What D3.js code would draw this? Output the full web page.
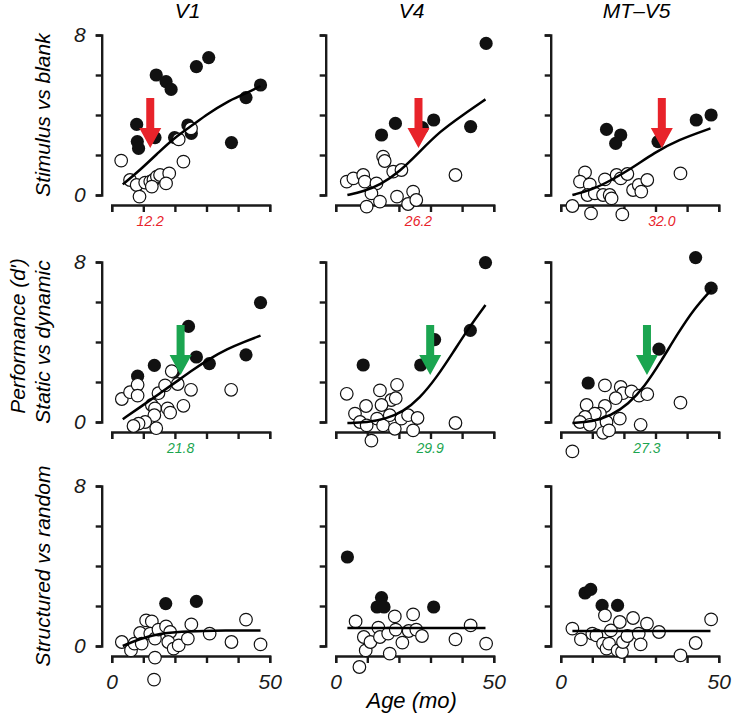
<!DOCTYPE html>
<html>
<head>
<meta charset="utf-8">
<script src="https://cdn.jsdelivr.net/npm/d3@7"></script>
<style>
  html, body { margin: 0; padding: 0; background: #fff; }
  svg text { font-family: "Liberation Sans", Arial, Helvetica, sans-serif; font-style: italic; }
</style>
</head>
<body>
<div id="chart"></div>
<script>
// column / row names
const areas = ["V1", "V4", "MT\u2013V5"];
const tasks = ["Stimulus vs blank", "Static vs dynamic", "Structured vs random"];
const xTicks = [0, 10, 20, 30, 40, 50];
const yTicks = [0, 2, 4, 6, 8];

// threshold ages (months), null = no arrow
const thresholds = [[12.2, 26.2, 32.0], [21.8, 29.9, 27.3], [null, null, null]];
const arrowFrom = 4.85, arrowTo = 2.35;

// --- Stimulus vs blank ---
const v1StimFilled = [[30.7, 6.87], [26.8, 6.42], [14.1, 6.0], [17.2, 5.67], [18.8, 5.28], [47.1, 5.5], [42.5, 4.87],
  [7.9, 3.53], [8.1, 2.67], [8.5, 2.33], [13.7, 2.87], [24.1, 3.5], [25.2, 3.08], [19.9, 2.87], [37.9, 2.62]];
const v1StimOpen = [[3.0, 1.72], [22.7, 1.67], [5.8, 0.75], [7.9, 0.5], [8.8, -0.08], [10.6, 0.62], [12.2, 0.67],
  [13.2, 0.75], [14.3, 0.92], [15.3, 1.0], [18.2, 1.08], [17.2, 0.58], [12.7, 0.42], [21.2, 2.78], [25.1, 3.33]];
const v1StimFit = [[3.5, 0.53], [9.0, 1.25], [15.3, 2.2], [19.6, 2.83], [25.9, 3.53], [30.1, 4.03], [36.5, 4.67], [41.8, 5.03], [47.1, 5.45]];

const v4StimFilled = [[47.6, 7.58], [18.9, 3.58], [14.5, 3.0], [31.0, 3.75], [27.4, 3.37], [42.7, 3.42]];
const v4StimOpen = [[15.0, 1.92], [15.5, 1.7], [37.9, 1.0], [18.2, 1.17], [20.8, 1.25], [3.5, 0.67], [5.6, 0.83],
  [8.7, 1.0], [9.2, 0.67], [12.9, 0.58], [11.3, 0.08], [14.0, -0.33], [9.8, -0.58], [19.4, -0.08], [22.9, -0.45],
  [24.5, 0.17], [25.5, -0.25]];
const v4StimFit = [[3.7, 0.0], [8.7, 0.17], [14.0, 0.5], [20.3, 1.17], [26.6, 2.17], [32.9, 3.17], [40.2, 4.0], [47.4, 4.78]];

const mtStimFilled = [[14.5, 3.28], [19.0, 3.0], [17.4, 2.58], [30.8, 2.67], [42.9, 3.75], [47.6, 4.0]];
const mtStimOpen = [[7.7, 1.13], [6.1, 0.67], [9.2, 0.53], [8.5, 0.0], [10.8, 0.08], [13.4, 0.0], [14.0, 0.78],
  [15.5, 0.0], [16.1, -0.17], [17.7, 1.0], [19.0, 0.83], [21.1, 1.05], [22.9, 0.25], [24.7, 0.5], [25.5, 0.17],
  [27.4, 0.75], [37.9, 1.08], [3.7, -0.55], [9.6, -0.92], [19.5, -0.97]];
const mtStimFit = [[3.7, 0.0], [9.8, 0.25], [16.1, 0.75], [22.4, 1.33], [29.7, 2.12], [37.1, 2.75], [47.4, 3.33]];

// --- Static vs dynamic ---
const v1DynFilled = [[47.1, 5.97], [24.3, 4.78], [26.8, 3.25], [30.9, 2.92], [42.5, 3.36], [13.5, 2.83], [8.2, 2.29], [19.6, 2.49]];
const v1DynOpen = [[3.2, 1.15], [5.8, 1.49], [8.2, 1.86], [8.2, 1.32], [14.8, 1.44], [16.9, 1.83], [20.9, 1.9],
  [25.1, 1.61], [37.8, 1.61], [19.0, 2.54], [12.7, 0.85], [13.7, 0.68], [17.7, 0.68], [18.5, 0.47], [22.7, 0.81],
  [13.5, 0.34], [10.6, 0.0], [8.5, -0.08], [6.9, -0.2], [14.1, -0.31]];
const v1DynFit = [[3.5, 0.14], [10.0, 0.85], [15.3, 1.44], [20.6, 2.03], [25.9, 2.63], [31.2, 3.18], [36.5, 3.65], [41.8, 4.0], [47.1, 4.32]];

const v4DynFilled = [[47.4, 7.97], [8.7, 2.85], [26.9, 2.85], [31.3, 4.12], [42.6, 4.58]];
const v4DynOpen = [[3.5, 1.41], [14.0, 1.58], [19.4, 1.86], [17.6, 1.1], [14.5, 0.85], [9.6, 0.8], [6.1, 0.42],
  [7.7, 0.0], [9.8, -0.17], [13.1, 0.17], [15.0, -0.17], [17.1, 0.34], [18.7, -0.34], [20.8, 0.17], [22.9, 0.34],
  [24.5, -0.42], [25.9, 0.2], [11.3, -0.93], [37.9, -0.05], [19.0, 1.19]];
const v4DynFit = [[3.7, -0.05], [9.8, -0.03], [16.1, 0.17], [21.3, 0.51], [26.6, 1.19], [31.8, 2.2], [37.1, 3.47], [42.3, 4.75], [47.4, 5.85]];

const mtDynFilled = [[42.7, 8.22], [47.6, 6.69], [31.1, 3.64], [8.7, 1.95]];
const mtDynOpen = [[14.0, 1.83], [19.0, 1.75], [19.7, 1.44], [22.4, 1.53], [24.8, 1.32], [27.4, 1.39], [17.4, 1.19],
  [8.2, 0.85], [14.0, 0.8], [12.4, 0.42], [10.8, 0.42], [7.7, 0.25], [6.1, 0.0], [9.2, -0.14], [14.5, 0.0],
  [18.7, 0.17], [13.4, -0.54], [15.3, -0.42], [25.3, -0.14], [37.9, 0.97], [3.7, -1.47]];
const mtDynFit = [[3.7, -0.05], [9.8, 0.0], [16.1, 0.34], [21.3, 0.88], [26.6, 1.78], [31.8, 3.05], [37.1, 4.44], [42.3, 5.68], [47.6, 6.6]];

// --- Structured vs random ---
const v1StrFilled = [[17.1, 2.12], [26.8, 2.23]];
const v1StrOpen = [[3.2, 0.2], [6.1, -0.22], [7.2, 0.12], [9.0, 0.65], [9.5, 0.12], [10.9, 1.28], [12.7, 1.23],
  [12.2, 0.62], [13.7, 0.37], [14.8, 0.82], [17.2, 0.98], [18.5, 0.7], [17.9, 0.2], [19.6, -0.13], [21.2, 0.03],
  [24.1, 0.37], [25.2, 1.08], [31.0, 0.62], [37.9, 0.2], [42.5, 1.32], [47.1, 0.08], [13.7, -0.58], [13.4, -1.68]];
const v1StrFit = [[3.5, 0.0], [9.0, 0.37], [15.3, 0.62], [21.7, 0.72], [31.2, 0.77], [47.1, 0.78]];

const v4StrFilled = [[3.7, 4.45], [14.5, 2.42], [13.1, 1.95], [15.3, 1.95], [31.0, 1.95]];
const v4StrOpen = [[6.3, 1.23], [8.9, 0.45], [9.5, -0.22], [11.0, 0.2], [7.5, -1.05], [13.5, 0.92], [14.0, 0.45],
  [17.1, -0.38], [16.6, 0.62], [18.7, 1.48], [19.0, 0.82], [21.1, 0.17], [23.1, 0.75], [24.5, 1.58], [25.5, 0.82],
  [27.3, 0.5], [37.9, 0.33], [42.7, 1.03], [47.6, 0.12]];
const v4StrFit = [[3.7, 0.9], [47.4, 0.9]];

const mtStrFilled = [[7.7, 2.65], [9.5, 2.83], [13.1, 2.03], [18.0, 2.03]];
const mtStrOpen = [[3.7, 0.87], [6.4, 0.33], [10.0, 0.62], [11.3, 0.53], [14.0, 1.53], [13.4, 0.12], [14.5, -0.13],
  [15.3, 0.12], [15.9, 0.78], [18.0, -0.22], [18.7, 1.2], [19.4, -0.3], [19.7, 0.2], [21.1, 0.5], [22.9, 1.4],
  [24.7, 0.62], [25.3, 0.08], [27.3, 1.12], [31.1, 0.7], [37.9, -0.47], [42.7, 0.15], [47.6, 1.33]];
const mtStrFit = [[3.7, 0.75], [47.4, 0.75]];

const panels = [
  [{filled: v1StimFilled, open: v1StimOpen, fit: v1StimFit},
   {filled: v4StimFilled, open: v4StimOpen, fit: v4StimFit},
   {filled: mtStimFilled, open: mtStimOpen, fit: mtStimFit}],
  [{filled: v1DynFilled, open: v1DynOpen, fit: v1DynFit},
   {filled: v4DynFilled, open: v4DynOpen, fit: v4DynFit},
   {filled: mtDynFilled, open: mtDynOpen, fit: mtDynFit}],
  [{filled: v1StrFilled, open: v1StrOpen, fit: v1StrFit},
   {filled: v4StrFilled, open: v4StrOpen, fit: v4StrFit},
   {filled: mtStrFilled, open: mtStrOpen, fit: mtStrFit}]
];

const arrowColors = ["#e8232a", "#1ba550", null];

const W = 734, H = 722;
const colX = [111.7, 335.7, 560.7];
const rowY = [35, 262, 486];
const pw = 158, ph = 160;

const svg = d3.select("#chart").append("svg")
  .attr("width", W).attr("height", H)
  .attr("viewBox", `0 0 ${W} ${H}`);

const x = d3.scaleLinear().domain([0, 50]).range([0, pw]);
const y = d3.scaleLinear().domain([0, 8]).range([ph, 0]);

const line = d3.line()
  .x(d => x(d[0]))
  .y(d => y(d[1]))
  .curve(d3.curveBasis);

panels.forEach((row, r) => {
  row.forEach((p, c) => {
    const g = svg.append("g").attr("transform", `translate(${colX[c]},${rowY[r]})`);

    // y axis
    const yAxis = d3.axisLeft(y).tickValues(yTicks).tickSize(6).tickSizeOuter(6).tickPadding(10)
      .tickFormat(d => (c === 0 && (d === 0 || d === 8)) ? d : "");
    const ya = g.append("g").attr("transform", "translate(-10,0)").call(yAxis);

    // x axis
    const xAxis = d3.axisBottom(x).tickValues(xTicks).tickSize(7).tickSizeOuter(7).tickPadding(11)
      .tickFormat(d => (r === 2 && (d === 0 || d === 50)) ? d : "");
    const xa = g.append("g").attr("transform", `translate(0,${ph + 10})`).call(xAxis);

    [ya, xa].forEach(a => {
      a.selectAll("path, line").attr("stroke", "#1a1a1a").attr("stroke-width", 2.4);
      a.selectAll("text").attr("fill", "#1a1a1a").style("font-size", "21px");
    });

    // points
    g.selectAll(".filled").data(p.filled).enter().append("circle")
      .attr("cx", d => x(d[0])).attr("cy", d => y(d[1])).attr("r", 6.6)
      .attr("fill", "#111");
    g.selectAll(".open").data(p.open).enter().append("circle")
      .attr("cx", d => x(d[0])).attr("cy", d => y(d[1])).attr("r", 6.3)
      .attr("fill", "#fff").attr("stroke", "#111").attr("stroke-width", 1.2);

    // fit
    g.append("path").datum(p.fit).attr("d", line)
      .attr("fill", "none").attr("stroke", "#000").attr("stroke-width", 2.5);

    // threshold arrow + label
    const t = thresholds[r][c];
    if (t !== null) {
      const ax = x(t), y1 = y(arrowFrom), y2 = y(arrowTo);
      const sw = 4, hw = 11, hh = 20;
      g.append("path")
        .attr("d", `M${ax - sw},${y1}H${ax + sw}V${y2 - hh}H${ax + hw}L${ax},${y2}L${ax - hw},${y2 - hh}H${ax - sw}Z`)
        .attr("fill", arrowColors[r]);
      g.append("text")
        .attr("x", ax).attr("y", ph + 31)
        .attr("text-anchor", "middle")
        .attr("fill", arrowColors[r])
        .style("font-size", "14px")
        .text(t.toFixed(1));
    }
  });
});

// column titles
areas.forEach((a, c) => {
  svg.append("text")
    .attr("x", colX[c] + pw / 2 - 3).attr("y", 18)
    .attr("text-anchor", "middle")
    .style("font-size", "21px")
    .text(a);
});

// row labels
tasks.forEach((t, r) => {
  svg.append("text")
    .attr("transform", `translate(50,${rowY[r] + ph / 2}) rotate(-90)`)
    .attr("text-anchor", "middle")
    .style("font-size", "21px")
    .text(t);
});

svg.append("text")
  .attr("transform", `translate(25,${rowY[1] + ph / 2 - 6}) rotate(-90)`)
  .attr("text-anchor", "middle")
  .style("font-size", "21px")
  .text("Performance (d\u2032)");

svg.append("text")
  .attr("x", colX[1] + pw / 2 - 3).attr("y", 708)
  .attr("text-anchor", "middle")
  .style("font-size", "22px")
  .text("Age (mo)");
</script>
</body>
</html>
